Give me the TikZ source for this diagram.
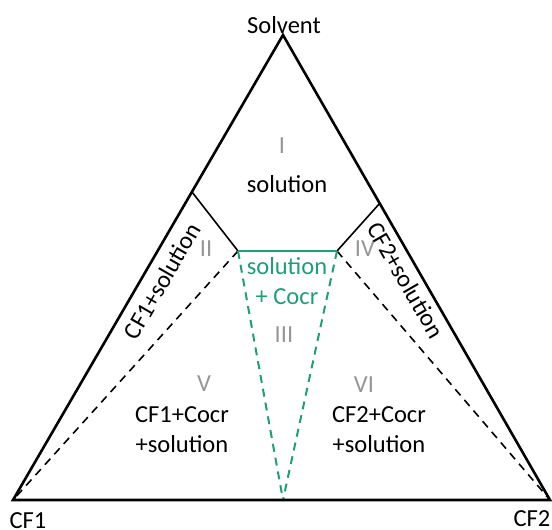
\documentclass[tikz,border=0pt]{standalone}
\usepackage{fontspec}
\setmainfont{Carlito}
\definecolor{cocrgreen}{RGB}{31,158,122}
\definecolor{regiongray}{RGB}{150,150,150}
\tikzset{
  lbl/.style={font=\fontsize{24.5}{30}\selectfont, align=center, inner sep=0pt},
  region/.style={lbl, text=regiongray},
  sideline/.style={line width=2.6pt, line join=miter},
  tieline/.style={line width=1.6pt},
  splitline/.style={line width=1.6pt, dash pattern=on 8pt off 6pt},
  cocrline/.style={line width=2pt, cocrgreen, dash pattern=on 8pt off 6pt},
}
\begin{document}
\begin{tikzpicture}[x=1pt,y=-1pt]
    \useasboundingbox (0,0) rectangle (552,530);
    \coordinate (S) at (283,35);
    \coordinate (L) at (13,500);
    \coordinate (R) at (550,500);
    \coordinate (P1) at (192,192);
    \coordinate (P2) at (380,203);
    \coordinate (A) at (238,251);
    \coordinate (B) at (337,251);
    \coordinate (M) at (283,500);
    \node[lbl] (solvent) at (284,25) {Solvent};
    \node[lbl] (cf1) at (28,521) {CF1};
    \node[lbl] (cf2) at (532,519) {CF2};
    \node[region] (r1) at (282,146) {I};
    \node[lbl] (sol) at (287,184) {solution};
    \node[region] (r2) at (206,249) {II};
    \node[region] (r4) at (365,249) {IV};
    \node[lbl, text=cocrgreen] (solcocr) at (287,281) {solution\\+ Cocr};
    \node[region] (r3) at (284,335) {III};
    \node[region] (r5) at (204,384) {V};
    \node[region] (r6) at (364,385) {VI};
    \node[lbl] (cf1cocr) at (182,430) {CF1+Cocr\\+solution};
    \node[lbl] (cf2cocr) at (379,430) {CF2+Cocr\\+solution};
    \node[lbl, rotate=60] (cf1sol) at (162,281) {CF1+solution};
    \node[lbl, rotate=-60] (cf2sol) at (406,280) {CF2+solution};
    % phase boundaries
    \draw[tieline] (P1) -- (A);
    \draw[tieline] (P2) -- (B);
    \draw[splitline] (A) -- (L);
    \draw[splitline] (B) -- (R);
    \draw[cocrline, solid] (A) -- (B);
    \draw[cocrline] (A) -- (M);
    \draw[cocrline] (B) -- (M);
    \draw[sideline] (S) -- (L) -- (R) -- cycle;
\end{tikzpicture}
\end{document}
